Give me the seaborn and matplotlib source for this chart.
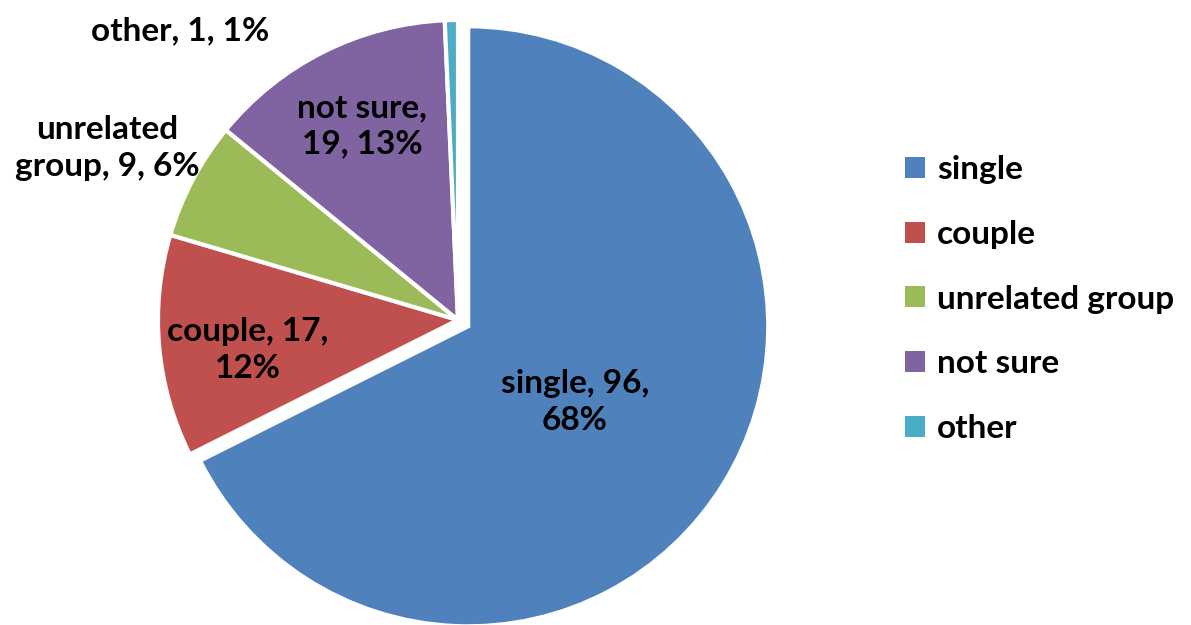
import matplotlib
matplotlib.use("Agg")
import matplotlib.pyplot as plt
from matplotlib.patches import Patch
import seaborn as sns

# Household composition responses
categories = ["single", "couple", "unrelated group", "not sure", "other"]
counts = [96, 17, 9, 19, 1]
colors = ["#4F81BD", "#C0504D", "#9BBB59", "#8064A2", "#4BACC6"]

# Label placement (pixel space, origin bottom-left)
label_pos = {
    "single": (575, 223),
    "couple": (248, 275),
    "unrelated group": (107, 477),
    "not sure": (362, 499),
    "other": (180, 594),
}

sns.set_theme(style="white")
plt.rcParams["font.family"] = ["Lato", "DejaVu Sans"]
plt.rcParams["text.color"] = "black"

W, H = 1191, 625
FS = 24
fig = plt.figure(figsize=(W / 100, H / 100), dpi=100)
ax = fig.add_axes([0, 0, 1, 1])

explode = [12 if c == "single" else 0 for c in categories]
wedges, _ = ax.pie(
    counts,
    colors=colors,
    startangle=90,
    counterclock=False,
    center=(458, 305),
    radius=300,
    explode=explode,
    wedgeprops=dict(edgecolor="white", linewidth=3),
    frame=True,
)
ax.set_xlim(0, W)
ax.set_ylim(0, H)
ax.axis("off")

total = sum(counts)
texts = {
    "single": "{c}, {v},\n{p}%",
    "couple": "{c}, {v},\n{p}%",
    "unrelated group": "unrelated\ngroup, {v}, {p}%",
    "not sure": "{c},\n{v}, {p}%",
    "other": "{c}, {v}, {p}%",
}
for cat, v in zip(categories, counts):
    pct = round(v / total * 100)
    ax.text(*label_pos[cat], texts[cat].format(c=cat, v=v, p=pct),
            ha="center", va="center", fontsize=FS, fontweight="bold",
            color="black", linespacing=1.3)

handles = [Patch(facecolor=col, edgecolor="none") for col in colors]
leg = ax.legend(handles, categories, loc="center left",
                bbox_to_anchor=(905 / W, (H - 299) / H), frameon=False,
                prop={"weight": "bold", "size": FS}, labelcolor="black",
                handlelength=0.6, handleheight=0.6, handletextpad=0.35,
                labelspacing=1.07, borderpad=0, borderaxespad=0)

fig.savefig("out.png", dpi=100)
